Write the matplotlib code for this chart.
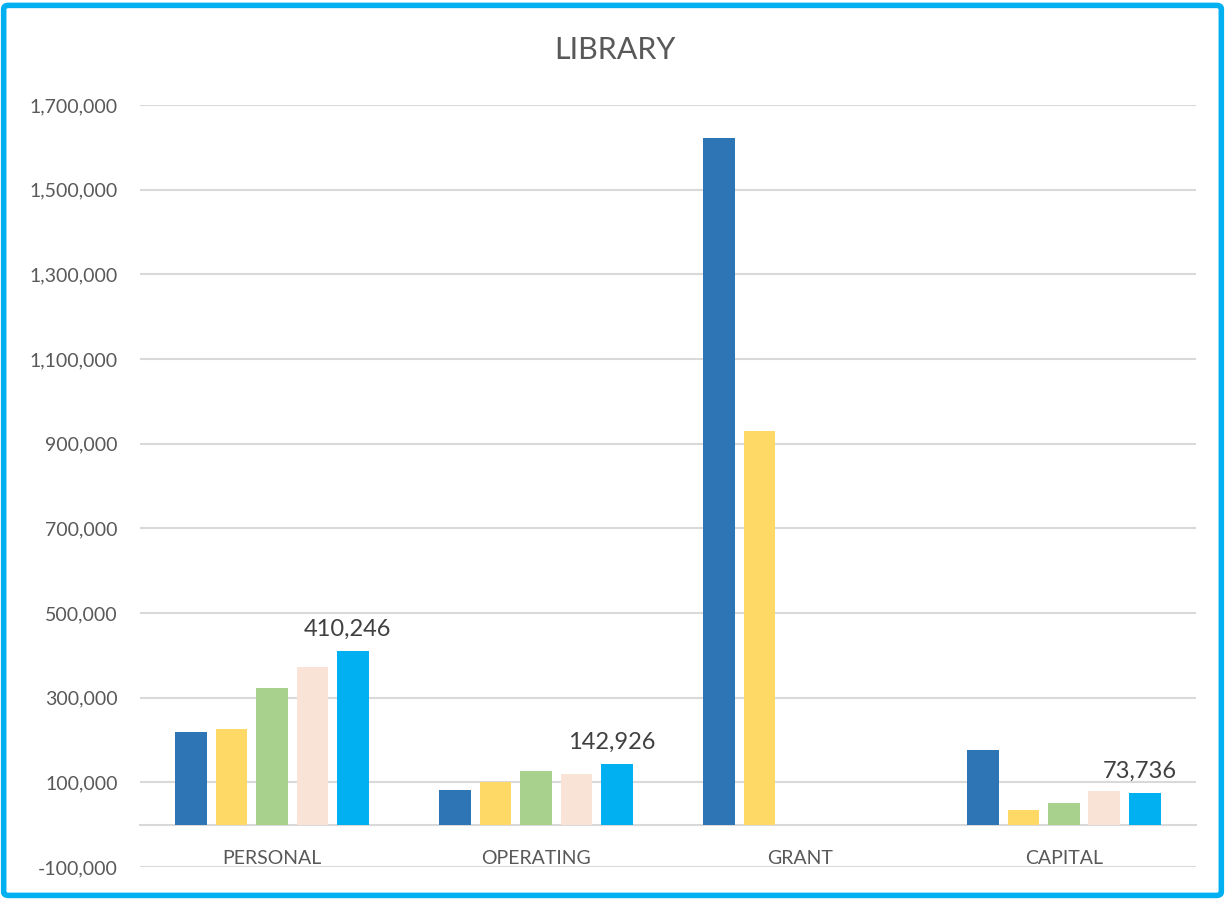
import matplotlib
matplotlib.use("Agg")
import matplotlib.pyplot as plt
import numpy as np
from matplotlib.patches import FancyBboxPatch

# --- data ---
categories = ['PERSONAL', 'OPERATING', 'GRANT', 'CAPITAL']
series_1 = [219300, 82800, 1621600, 177000]
series_2 = [227000, 100700, 930600, 34100]
series_3 = [323500, 126600, 0, 52200]
series_4 = [373600, 118800, 0, 79500]
series_5 = [410246, 142926, 0, 73736]
series_colors = ['#2E75B6', '#FFD966', '#A9D18E', '#F8E3D6', '#00B0F0']
y_ticks = list(range(-100000, 1700001, 200000))

all_series = [series_1, series_2, series_3, series_4, series_5]

plt.rcParams['font.family'] = ['Lato', 'DejaVu Sans']
text_color = '#595959'
grid_color = '#D9D9D9'

fig = plt.figure(figsize=(12.25, 8.99), dpi=100)
ax = fig.add_axes([0.1143, 0.0356, 0.862, 0.8476])

x = np.arange(len(categories))
step = 0.1534
width = 0.121
for i, (vals, col) in enumerate(zip(all_series, series_colors)):
    offs = (i - 2) * step
    bars = ax.bar(x + offs, vals, width=width, color=col, zorder=3)
    if i == len(all_series) - 1:
        # only the last series carries data labels (zero values skipped)
        for b, v in zip(bars, vals):
            if v == 0:
                continue
            ax.annotate(f'{v:,}', (b.get_x() + b.get_width() / 2, v),
                        xytext=(-4, 8), textcoords='offset points',
                        ha='center', va='bottom', fontsize=17, color='#404040')

ax.set_ylim(-100000, 1700000)
ax.set_xlim(-0.5, len(categories) - 0.5)
ax.set_yticks(y_ticks)
ax.set_yticklabels([f'{t:,}' for t in y_ticks])
ax.yaxis.grid(True, color=grid_color, linewidth=1.5, zorder=0)
ax.set_axisbelow(True)

ax.set_xticks(x)
ax.set_xticklabels(categories)
ax.spines['bottom'].set_position(('data', 0))
ax.spines['bottom'].set_color(grid_color)
ax.spines['bottom'].set_linewidth(1.5)
for s in ['top', 'right', 'left']:
    ax.spines[s].set_visible(False)
ax.tick_params(axis='both', length=0, labelsize=14, colors=text_color)
ax.tick_params(axis='x', pad=18)
ax.tick_params(axis='y', pad=16)

fig.text(0.502, 0.944, 'LIBRARY', ha='center', va='center', fontsize=22, color=text_color)

# outer chart border
border = FancyBboxPatch((0.003, 0.004), 0.994, 0.99, boxstyle='round,pad=0,rounding_size=0.004',
                        transform=fig.transFigure, fill=False, edgecolor='#00B0F0', linewidth=4)
fig.patches.append(border)

fig.savefig('out.png', dpi=100)
